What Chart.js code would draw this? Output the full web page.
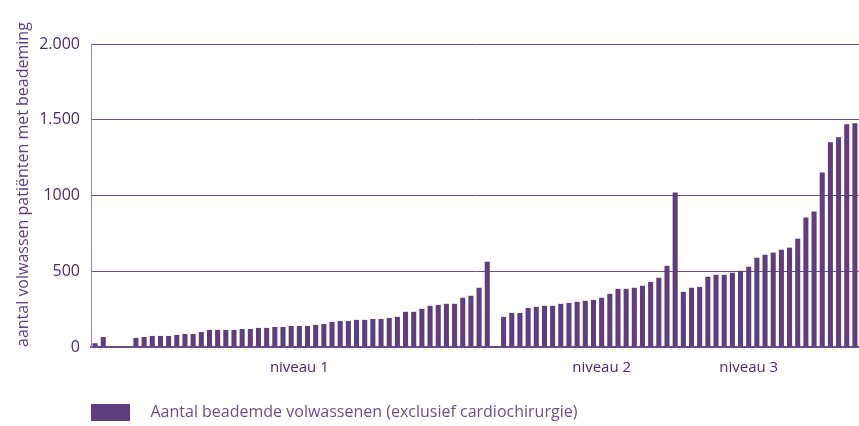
<!DOCTYPE html>
<html lang="nl">
  <head>
    <meta charset="UTF-8" />
    <title>Aantal beademde volwassenen per ziekenhuis</title>
    <style>
      body {
        margin: 0;
        background: #ffffff;
      }
      #wrap {
        width: 859px;
        height: 426px;
      }
    </style>
    <script src="https://cdn.jsdelivr.net/npm/chart.js"></script>
  </head>
  <body>
    <div id="wrap">
      <canvas id="grafiek" width="859" height="426"></canvas>
    </div>

    <script>
      // aantal beademde patienten per ziekenhuis, gesorteerd binnen elk niveau
      // null = lege plek in de reeks
      const niveau1 = [
        25, 66, null, null, null, 60, 66, 73, 73, 73, 80, 86, 86, 99, 113, 113,
        113, 113, 119, 119, 126, 126, 132, 132, 139, 139, 139, 146, 152, 166,
        172, 172, 179, 179, 185, 185, 192, 199, 232, 232, 252, 272, 278, 285,
        285, 325, 338, 391, 563, null,
      ];
      const niveau2 = [
        199, 225, 225, 258, 265, 272, 272, 285, 291, 298, 305, 311, 325, 351,
        384, 384, 391, 404, 430, 457, 536, 1020,
      ];
      const niveau3 = [
        364, 391, 397, 464, 477, 477, 490, 503, 530, 589, 609, 623, 642, 656,
        715, 854, 894, 1152, 1351, 1384, 1470, 1477,
      ];

      // labels onder de x-as en op welke plek ze staan
      const niveauLabels = ["niveau 1", "niveau 2", "niveau 3"];
      const niveauPlek = [25, 62, 80];

      const yTickLabels = ["0", "500", "1000", "1.500", "2.000"];
      const reeksNaam = "Aantal beademde volwassenen (exclusief cardiochirurgie)";
      const asTitel = "aantal volwassen patiënten met beademing";

      const paars = "#5f3d7f";
      const lijnPaars = "#6a4c8c";

      const waarden = [...niveau1, ...niveau2, ...niveau3];
      // categorieen: alleen op de niveau-plekken een tekst
      const categorieen = waarden.map((_, i) => {
        const k = niveauPlek.indexOf(i);
        return k >= 0 ? niveauLabels[k] : "";
      });

      const ctx = document.getElementById("grafiek").getContext("2d");
      new Chart(ctx, {
        type: "bar",
        data: {
          labels: categorieen,
          datasets: [
            {
              label: "   " + reeksNaam,
              data: waarden,
              backgroundColor: paars,
              borderWidth: 0,
              categoryPercentage: 1,
              barPercentage: 0.62,
            },
          ],
        },
        options: {
          responsive: false,
          animation: false,
          layout: {
            autoPadding: false,
            padding: { top: 44, right: 0, bottom: -5, left: 0 },
          },
          scales: {
            x: {
              // geen streepjes tekenen, wel ruimte boven de labels
              grid: { display: false, drawTicks: true, tickLength: 12 },
              border: { color: lijnPaars, width: 2 },
              ticks: {
                autoSkip: false,
                maxRotation: 0,
                padding: 0,
                color: "#4a2a6a",
                font: { family: "Open Sans", size: 15 },
              },
              afterFit: (scale) => {
                scale.height += 27; // ruimte tussen as en legenda
              },
            },
            y: {
              min: 0,
              max: 2000,
              afterFit: (scale) => {
                scale.width = 91;
              },
              grid: { color: lijnPaars, lineWidth: 1, drawTicks: false },
              border: { color: "#9a82b6", width: 1 },
              ticks: {
                stepSize: 500,
                padding: 11,
                color: "#4a2a6a",
                font: { family: "Open Sans", size: 16 },
                callback: (v) => yTickLabels[v / 500],
              },
              title: {
                display: true,
                text: asTitel,
                align: "start",
                color: "#5e3f80",
                font: { family: "Open Sans", size: 16 },
                padding: { top: 14, bottom: 0 },
              },
            },
          },
          plugins: {
            tooltip: { enabled: false },
            legend: {
              position: "bottom",
              align: "start",
              fullSize: false,
              labels: {
                boxWidth: 39,
                boxHeight: 17,
                padding: 0,
                color: "#6a4e8e",
                font: { family: "Open Sans", size: 16 },
              },
            },
          },
        },
      });
    </script>
  </body>
</html>
